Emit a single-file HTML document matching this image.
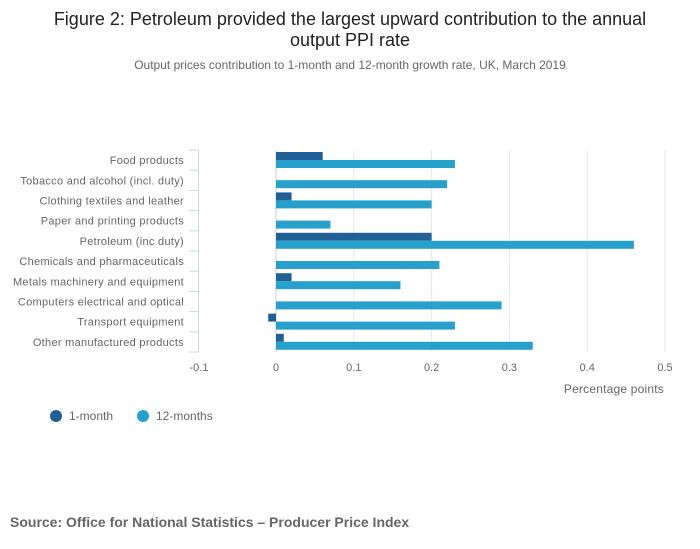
<!DOCTYPE html>
<html><head><meta charset="utf-8"><style>
body{margin:0;background:#fff;font-family:"Liberation Sans","DejaVu Sans",sans-serif;}
svg{display:block}
</style></head><body>
<svg id="chart" width="700" height="549" xmlns="http://www.w3.org/2000/svg">
<text x="350" y="25" text-anchor="middle" font-size="18" fill="#222">Figure 2: Petroleum provided the largest upward contribution to the annual</text>
<text x="350" y="46" text-anchor="middle" font-size="18" fill="#222">output PPI rate</text>
<text x="350" y="69" text-anchor="middle" font-size="12" fill="#666">Output prices contribution to 1-month and 12-month growth rate, UK, March 2019</text>
<g id="grid"></g><g id="bars"></g><g id="axes"></g>
<text x="664" y="393" text-anchor="end" font-size="12" fill="#666" letter-spacing="0.2">Percentage points</text>
<g>
<circle cx="56" cy="416" r="6" fill="#206095"/>
<text x="69" y="420" font-size="12" fill="#666">1-month</text>
<circle cx="143" cy="416" r="6" fill="#27a0cc"/>
<text x="156" y="420" font-size="12" fill="#666">12-months</text>
</g>
<text x="10" y="527" font-size="14" font-weight="bold" fill="#666">Source: Office for National Statistics – Producer Price Index</text>
</svg>
<script>
const categories=["Food products","Tobacco and alcohol (incl. duty)","Clothing textiles and leather","Paper and printing products","Petroleum (inc duty)","Chemicals and pharmaceuticals","Metals machinery and equipment","Computers electrical and optical","Transport equipment","Other manufactured products"];
const oneMonth=[0.06,0,0.02,0,0.2,0,0.02,0,-0.01,0.01];
const twelveMonths=[0.23,0.22,0.2,0.07,0.46,0.21,0.16,0.29,0.23,0.33];
const xTicks=[-0.1,0,0.1,0.2,0.3,0.4,0.5];
const NS="http://www.w3.org/2000/svg";
const top0=150,bottom0=352,rowH=(bottom0-top0)/categories.length;
function x(v){return 276+v*778;}
function mk(tag,attrs,parent){const e=document.createElementNS(NS,tag);for(const k in attrs)e.setAttribute(k,attrs[k]);parent.appendChild(e);return e;}
const grid=document.getElementById('grid'),bars=document.getElementById('bars'),axes=document.getElementById('axes');
xTicks.forEach(t=>{
 if(t>-0.1){const l=mk('line',{x1:x(t),x2:x(t),y1:top0,y2:bottom0,stroke:t===0?'#ccc':'#e6e6e6','stroke-width':1},grid);
 
 }
 const tx=mk('text',{x:t===-0.1?199:x(t),y:371,'text-anchor':'middle','font-size':11,fill:'#666'},axes);
 tx.textContent=String(t);
 
 
});
const ax=mk('line',{x1:198.5,x2:198.5,y1:top0,y2:bottom0,stroke:'#ccd6eb'},axes);


for(let i=0;i<=categories.length;i++){const y=top0+i*rowH;
 const tk=mk('line',{x1:189,x2:198.5,y1:y,y2:y,stroke:'#ccd6eb'},axes);
 
 }
categories.forEach((c,i)=>{
 const y0=top0+i*rowH;
 const t=mk('text',{x:184,y:y0+rowH/2+4,'text-anchor':'end','font-size':11,fill:'#666','letter-spacing':0.3},axes);
 t.textContent=c;
 
 
 const v1=oneMonth[i];
 if(v1!==0){const b=mk('rect',{x:Math.min(x(0),x(v1)),y:y0+2,width:Math.abs(x(v1)-x(0)),height:8,fill:'#206095'},bars);
 
 }
 const v2=twelveMonths[i];
 const b2=mk('rect',{x:Math.min(x(0),x(v2)),y:y0+10,width:Math.abs(x(v2)-x(0)),height:8,fill:'#27a0cc'},bars);
 
 
});
</script>
</body></html>
